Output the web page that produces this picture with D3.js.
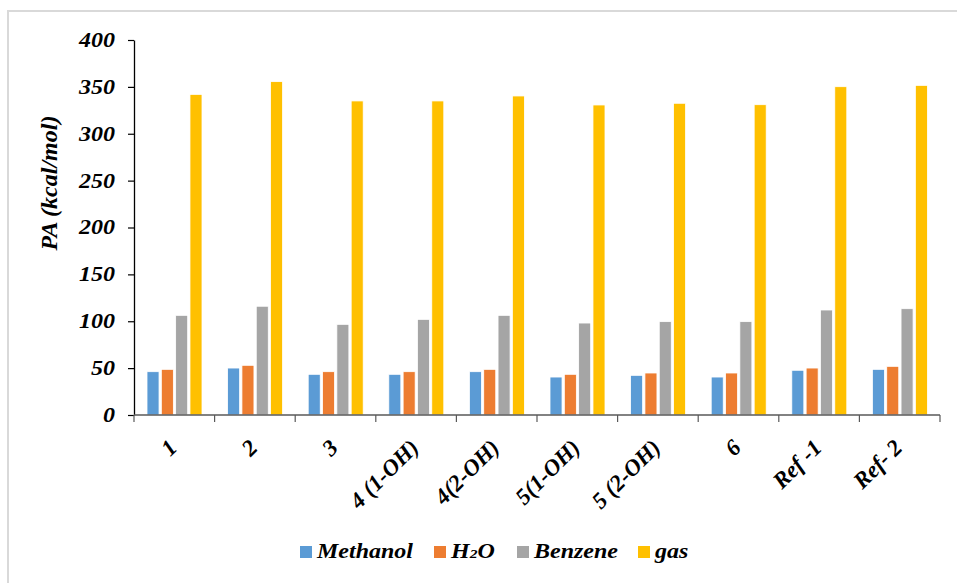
<!DOCTYPE html>
<html>
<head>
<meta charset="utf-8">
<script src="https://cdn.jsdelivr.net/npm/d3@7"></script>
<style>
  html, body { margin: 0; padding: 0; background: #fff; }
  svg { display: block; }
</style>
</head>
<body>
<svg id="chart" width="957" height="583"></svg>
<script>
// Proton affinity (kcal/mol) per compound, in four media
const categories = ["1", "2", "3", "4 (1-OH)", "4(2-OH)", "5(1-OH)", "5 (2-OH)", "6", "Ref -1", "Ref- 2"];
const seriesNames = ["Methanol", "H2O", "Benzene", "gas"];
const methanol = [46.2, 50.1, 43.4, 43.4, 46.2, 40.5, 42.3, 40.5, 47.7, 48.7];
const water    = [48.7, 53.0, 46.2, 46.2, 48.7, 43.4, 44.8, 44.8, 50.1, 51.9];
const benzene  = [106.3, 116.0, 96.7, 102.0, 106.3, 98.1, 99.6, 99.6, 112.0, 113.4];
const gas      = [342.0, 355.6, 335.0, 335.0, 340.3, 330.7, 332.5, 331.0, 350.2, 351.6];
const colors = ["#5b9bd5", "#ed7d31", "#a5a5a5", "#ffc000"];
const yTicks = [0, 50, 100, 150, 200, 250, 300, 350, 400];

const seriesValues = [methanol, water, benzene, gas];
const SERIF = "'Liberation Serif', 'Times New Roman', 'DejaVu Serif', serif";
const WIDEN = 1.2; // horizontal widening of the label lettering

function label(sel, size) {
  return sel
    .attr("font-family", SERIF)
    .attr("font-weight", "bold")
    .attr("font-style", "italic")
    .attr("font-size", size)
    .attr("fill", "#000");
}

const svg = d3.select("#chart");

// outer chart frame
svg.append("rect")
  .attr("x", 8).attr("y", 11)
  .attr("width", 1000).attr("height", 1000)
  .attr("fill", "none").attr("stroke", "#d9d9d9").attr("stroke-width", 2);

const plot = { left: 134, right: 940, top: 40, bottom: 415 };

const x = d3.scaleBand().domain(categories).range([plot.left, plot.right]).paddingInner(0).paddingOuter(0);
const inner = d3.scaleBand().domain(d3.range(seriesNames.length))
  .range([13, x.bandwidth() - 12.6]).paddingInner(0.16).paddingOuter(0);
const y = d3.scaleLinear().domain([0, 400]).range([plot.bottom, plot.top]);

// bars
const groups = svg.append("g").selectAll("g")
  .data(categories)
  .join("g")
  .attr("transform", d => `translate(${x(d)},0)`);

groups.selectAll("rect")
  .data((d, i) => seriesValues.map((vals, s) => ({ s, v: vals[i] })))
  .join("rect")
  .attr("x", d => inner(d.s))
  .attr("width", inner.bandwidth())
  .attr("y", d => y(d.v))
  .attr("height", d => y(0) - y(d.v))
  .attr("fill", d => colors[d.s])
  .attr("stroke", "#fff").attr("stroke-width", 0.8);

// y axis
const yAxis = svg.append("g")
  .attr("transform", `translate(${plot.left},0)`)
  .call(d3.axisLeft(y).tickValues(yTicks).tickSize(6).tickSizeOuter(0));
yAxis.select(".domain").attr("stroke", "#000").attr("stroke-width", 1.3);
yAxis.selectAll(".tick line").attr("stroke", "#000").attr("stroke-width", 1.2);
label(yAxis.selectAll(".tick text"), 20)
  .attr("x", 0)
  .attr("transform", `translate(-19,0) scale(${WIDEN},1)`);

// x axis with boundary ticks between categories
const xAxisG = svg.append("g").attr("transform", `translate(0,${plot.bottom})`);
xAxisG.append("line")
  .attr("x1", plot.left).attr("x2", plot.right)
  .attr("stroke", "#595959").attr("stroke-width", 1.3);
const boundaries = categories.map(c => x(c)).concat([plot.right]);
xAxisG.selectAll("line.tk")
  .data(boundaries)
  .join("line")
  .attr("class", "tk")
  .attr("x1", d => d).attr("x2", d => d)
  .attr("y1", 0).attr("y2", 7)
  .attr("stroke", "#595959").attr("stroke-width", 1.2);

label(xAxisG.selectAll("text.cat").data(categories).join("text").attr("class", "cat"), 23)
  .attr("text-anchor", "end")
  .attr("transform", d => `translate(${x(d) + x.bandwidth() / 2 + 4},${34}) rotate(-45)`)
  .text(d => d);

// y axis title
label(svg.append("text"), 24)
  .attr("text-anchor", "middle")
  .attr("transform", `translate(57,183) rotate(-90)`)
  .text("PA (kcal/mol)");

// legend
const legendItems = [
  { name: "Methanol", x: 300 },
  { name: "H2O", x: 434 },
  { name: "Benzene", x: 517 },
  { name: "gas", x: 638 }
];
const legend = svg.append("g");
legendItems.forEach((item, i) => {
  legend.append("rect")
    .attr("x", item.x).attr("y", 546)
    .attr("width", 12).attr("height", 12)
    .attr("fill", colors[i]);
  const t = label(legend.append("text"), 20)
    .attr("transform", `translate(${item.x + 17},558) scale(${WIDEN},1)`);
  if (item.name === "H2O") {
    t.append("tspan").text("H");
    t.append("tspan").attr("font-size", 13).text("2");
    t.append("tspan").text("O");
  } else {
    t.text(item.name);
  }
});
</script>
</body>
</html>
